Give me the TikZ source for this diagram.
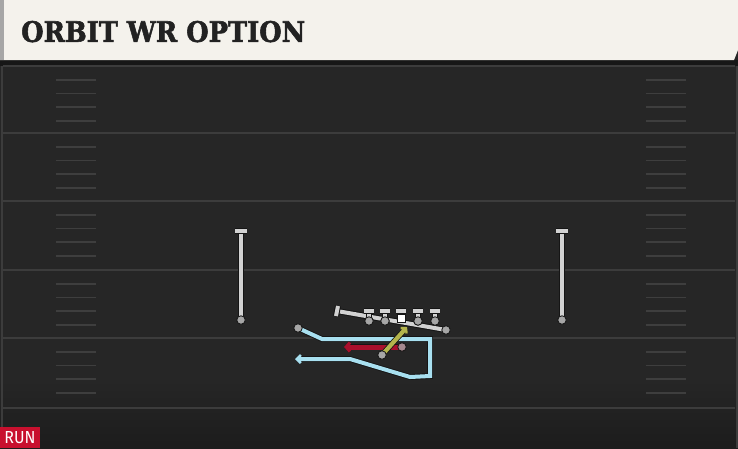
\documentclass[tikz,border=0pt]{standalone}
\usepackage{fontspec}
\newfontfamily\titlefont{DejaVu Serif}[FakeBold=2]
\newfontfamily\runfont{Fira Sans}
\usetikzlibrary{arrows.meta}
\definecolor{fieldbg}{HTML}{262626}
\definecolor{cream}{HTML}{F4F2EC}
\definecolor{yardln}{HTML}{3C3C3C}
\definecolor{hashln}{HTML}{3E3E3E}
\definecolor{plgray}{HTML}{D2D2D2}
\definecolor{dotgray}{HTML}{A6A6A6}
\definecolor{outl}{HTML}{151515}
\definecolor{routecyan}{HTML}{A8E0F0}
\definecolor{runred}{HTML}{A8102C}
\definecolor{optolive}{HTML}{B4B44C}
\definecolor{tagred}{HTML}{C8102E}
\definecolor{titlefg}{HTML}{222222}
\tikzset{
  yardline/.style={draw=yardln, line width=2pt},
  hashmark/.style={draw=hashln, line width=1.6pt},
  plline/.style={draw=plgray, line width=4pt, preaction={draw=outl, line width=6pt}},
  dotnode/.style={circle, fill=dotgray, draw=outl, line width=0.8pt, minimum size=8.5pt, inner sep=0pt},
  sqnode/.style={fill=white, draw=outl, line width=0.8pt, minimum size=8pt, inner sep=0pt},
  routeline/.style={draw=routecyan, line width=4pt, line join=miter, preaction={draw=outl, line width=5.8pt}},
  runline/.style={draw=runred, line width=5pt, preaction={draw=outl, line width=6.6pt}},
  optline/.style={draw=optolive, line width=4.2pt, preaction={draw=outl, line width=5.8pt}},
}
\begin{document}
\begin{tikzpicture}[x=1pt,y=-1pt]
\useasboundingbox (0,0) rectangle (738,448);
% field
\fill[fieldbg] (0,0) rectangle (738,448);
\shade[top color=fieldbg, bottom color=black!25!fieldbg] (0,380) rectangle (738,448);
\fill[fieldbg!60!black] (0,60) rectangle (738,66);
% side lines
\draw[draw=yardln, line width=2pt] (1.5,66) -- (1.5,448);
\draw[draw=yardln, line width=2pt] (736.5,66) -- (736.5,448);
% yard lines
\foreach \y in {66,133,201,270,338,408} {
  \draw[yardline] (3,\y) -- (735,\y);
}
% hash marks
\foreach \y in {66,133,201,270,338} {
  \foreach \d in {14,27.5,41,55} {
    \draw[hashmark] (56,\y+\d) -- (96,\y+\d);
    \draw[hashmark] (646,\y+\d) -- (686,\y+\d);
  }
}
% header
\fill[cream] (0,0) -- (738,0) -- (738,50) -- (734,60) -- (0,60) -- cycle;
\fill[black!35] (0,0) rectangle (4,60);
\node[anchor=south west, inner sep=0pt, text=titlefg] (title) at (21,42.5)
  {\resizebox{284pt}{21pt}{\titlefont\bfseries ORBIT WR OPTION}};
% RUN tag
\fill[tagred] (0,427) rectangle (40,448);
\node[inner sep=0pt, text=white] (runtag) at (20,438)
  {\resizebox{31pt}{12pt}{\runfont RUN}};

% wide receivers
\coordinate (wlt) at (241,231);
\node[dotnode] (wlb) at (241,320) {};
\draw[plline] (wlt) -- (wlb.center);
\draw[plline] (235,231) -- (247,231);
\node[dotnode] at (wlb) {};
\coordinate (wrt) at (562,231);
\node[dotnode] (wrb) at (562,320) {};
\draw[plline] (wrt) -- (wrb.center);
\draw[plline] (556,231) -- (568,231);
\node[dotnode] at (wrb) {};

% offensive line
\coordinate (oll) at (337,311);
\node[dotnode] (olr) at (446,330) {};
\draw[plline] (oll) -- (olr.center);
\draw[plline] (338,306) -- (336,316);
\node[dotnode] at (olr) {};
\foreach \x/\n in {369/a,385/b,418/d,435/e} {
  \coordinate (lt\n) at (\x,311);
  \node[dotnode] (lb\n) at (\x,321) {};
  \draw[plline] (lt\n) -- (lb\n.center);
  \draw[plline] (\x-5,311) -- (\x+5,311);
  \node[dotnode] at (lb\n) {};
}
\coordinate (ltc) at (401,311);
\node[sqnode] (center) at (401,318) {};
\draw[plline] (ltc) -- (center.north);
\draw[plline] (396,311) -- (406,311);
\node[sqnode] at (center) {};

% orbit route (cyan)
\node[dotnode] (wrs) at (298,328) {};
\coordinate (c1) at (322,339);
\coordinate (c2) at (430,339);
\coordinate (c3) at (430,376);
\coordinate (c4) at (410,377);
\coordinate (c5) at (350,359);
\coordinate (c6) at (295,359);
\draw[routeline, -{Straight Barb[length=4pt,width=8pt,line width=2.6pt]}] (wrs.center) -- (c1) -- (c2) -- (c3) -- (c4) -- (c5) -- (c6);
\node[dotnode] at (wrs) {};

% run (red)
\node[dotnode, fill=dotgray!70!runred] (rb) at (402,347) {};
\coordinate (rbt) at (344,347);
\draw[runline, -{Straight Barb[length=4pt,width=9pt,line width=3pt]}] (rb.center) -- (rbt);
\node[dotnode, fill=dotgray!80!runred] at (rb) {};

% option (olive)
\node[dotnode] (qb) at (382,355) {};
\coordinate (qbt) at (407,327);
\draw[optline, -{Straight Barb[length=3.5pt,width=8pt,line width=2.4pt]}] (qb.center) -- (qbt);
\node[dotnode] at (qb) {};
\end{tikzpicture}
\end{document}
